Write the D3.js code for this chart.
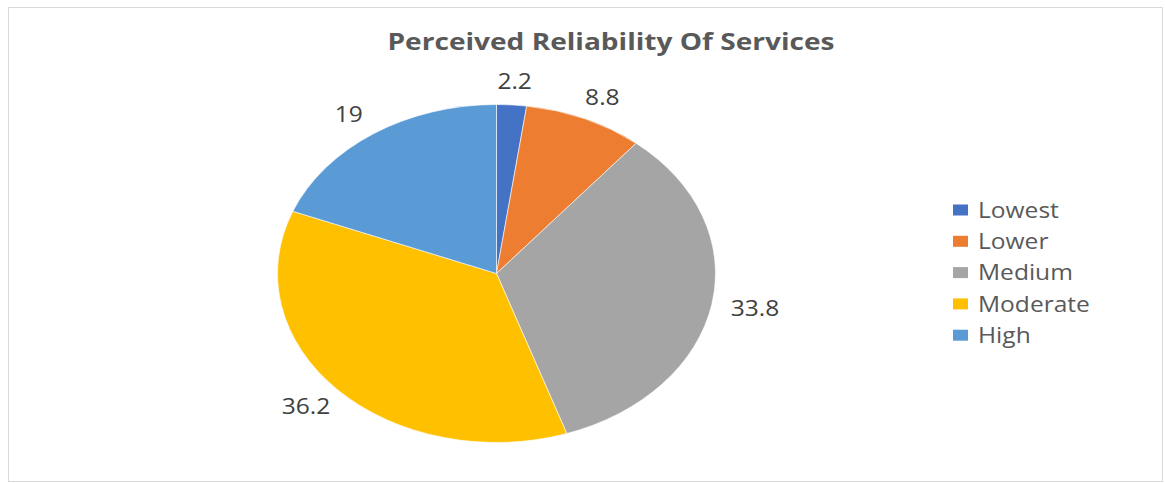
<!DOCTYPE html>
<html>
<head>
<meta charset="utf-8">
<script src="https://cdn.jsdelivr.net/npm/d3@7"></script>
<style>
  html, body { margin: 0; padding: 0; background: #fff; }
  svg { display: block; font-family: "Open Sans", sans-serif; }
</style>
</head>
<body>
<svg id="chart" width="1165" height="483"></svg>
<script>
// Perceived reliability of services (percent of respondents)
const categories = ["Lowest", "Lower", "Medium", "Moderate", "High"];
const values = [2.2, 8.8, 33.8, 36.2, 19];
const colors = ["#4472C4", "#ED7D31", "#A5A5A5", "#FFC000", "#5B9BD5"];
const title = "Perceived Reliability Of Services";

const cx = 496.5, cy = 273.5;   // pie centre
const rx = 219, ry = 169;       // horizontal / vertical radii (pie drawn as an ellipse)
const textStretch = 1.17;       // horizontal stretch applied to all text

const svg = d3.select("#chart");

// chart frame
svg.append("rect")
  .attr("x", 8.5).attr("y", 7.5)
  .attr("width", 1154).attr("height", 474)
  .attr("fill", "#fff")
  .attr("stroke", "#d9d9d9")
  .attr("stroke-width", 1);

// title
svg.append("text")
  .attr("transform", `translate(611,50) scale(${textStretch},1)`)
  .attr("text-anchor", "middle")
  .attr("font-size", 24)
  .attr("font-weight", "bold")
  .attr("fill", "#595959")
  .text(title);

const color = d3.scaleOrdinal().domain(categories).range(colors);

const pie = d3.pie().sort(null).value(d => d.value);
const data = categories.map((c, i) => ({ cat: c, value: values[i] }));
const arcs = pie(data);

// draw on a circle of radius ry, then stretch horizontally
const arc = d3.arc().innerRadius(0).outerRadius(ry);
const pieG = svg.append("g")
  .attr("transform", `translate(${cx},${cy}) scale(${rx / ry},1)`);

pieG.selectAll("path")
  .data(arcs)
  .join("path")
  .attr("d", arc)
  .attr("fill", d => color(d.data.cat))
  .attr("stroke", "#fff")
  .attr("stroke-width", 0.6)
  .attr("vector-effect", "non-scaling-stroke");

// value labels just outside each slice
const kx = 1.2, ky = 1.14;
svg.append("g").selectAll("text")
  .data(arcs)
  .join("text")
  .attr("transform", d => {
    const a = (d.startAngle + d.endAngle) / 2;
    const x = cx + rx * kx * Math.sin(a);
    const y = cy - ry * ky * Math.cos(a);
    return `translate(${x},${y}) scale(${textStretch},1)`;
  })
  .attr("text-anchor", "middle")
  .attr("dominant-baseline", "central")
  .attr("font-size", 21)
  .attr("fill", "#404040")
  .text(d => d.data.value);

// legend
const legend = svg.append("g").attr("transform", "translate(953,210)");
const rowH = 31.3;
const rows = legend.selectAll("g")
  .data(categories)
  .join("g")
  .attr("transform", (d, i) => `translate(0,${i * rowH})`);

rows.append("rect")
  .attr("x", 0).attr("y", -5.5)
  .attr("width", 15).attr("height", 11)
  .attr("fill", d => color(d));

rows.append("text")
  .attr("transform", `translate(25,0) scale(${textStretch},1)`)
  .attr("dominant-baseline", "central")
  .attr("font-size", 21)
  .attr("fill", "#595959")
  .text(d => d);
</script>
</body>
</html>
